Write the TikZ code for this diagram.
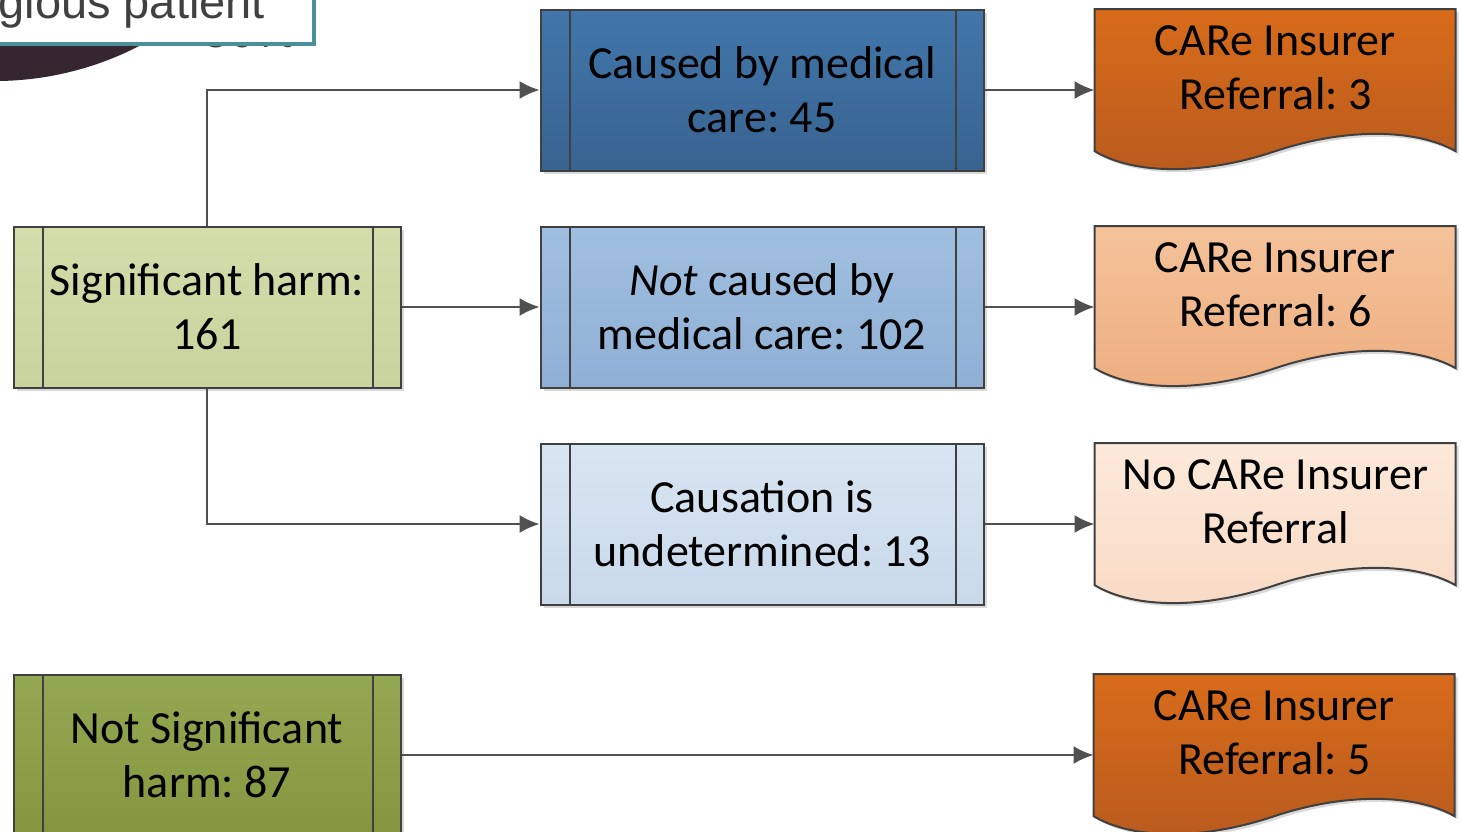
\documentclass[tikz,border=0pt]{standalone}
\usepackage{fontspec}
\setmainfont{Carlito}
\newfontfamily\calloutfont{Liberation Sans}
\usetikzlibrary{shapes,arrows.meta,positioning,calc,shadows,backgrounds}
\frenchspacing

\definecolor{boxline}{HTML}{404040}
\definecolor{arrowline}{HTML}{505050}
\definecolor{sigtop}{HTML}{D3DDAB}
\definecolor{sigbot}{HTML}{C8D39E}
\definecolor{notsigtop}{HTML}{94A853}
\definecolor{notsigbot}{HTML}{83963F}
\definecolor{causedtop}{HTML}{4176AA}
\definecolor{causedbot}{HTML}{386390}
\definecolor{notcausedtop}{HTML}{A0BFE0}
\definecolor{notcausedbot}{HTML}{8FB0D5}
\definecolor{undettop}{HTML}{D8E5F2}
\definecolor{undetbot}{HTML}{C9D9EA}
\definecolor{orangetop}{HTML}{D86B1A}
\definecolor{orangebot}{HTML}{B95B1E}
\definecolor{peachtop}{HTML}{F5C29A}
\definecolor{peachbot}{HTML}{EDAE80}
\definecolor{paletop}{HTML}{FCE9DA}
\definecolor{palebot}{HTML}{F8DAC4}
\definecolor{darkpie}{HTML}{35262F}
\definecolor{calloutteal}{HTML}{4A9098}
\definecolor{callouttext}{HTML}{404040}

\tikzset{
  procbox/.style={draw=boxline, line width=1pt, rectangle, minimum height=80.5pt, align=center,
    font=\fontsize{23pt}{27pt}\selectfont,
    drop shadow={shadow xshift=1.5pt, shadow yshift=-1.5pt, fill=black!15, opacity=1},
    path picture={\draw[boxline, line width=1pt]
      ([xshift=14.5pt]path picture bounding box.north west) -- ([xshift=14.5pt]path picture bounding box.south west)
      ([xshift=-14pt]path picture bounding box.north east) -- ([xshift=-14pt]path picture bounding box.south east);}},
  sidebox/.style={procbox, minimum width=193.5pt},
  midbox/.style={procbox, minimum width=221.5pt},
  docbox/.style={rectangle, minimum width=180.5pt, minimum height=80.5pt, align=center,
    font=\fontsize{23pt}{27pt}\selectfont},
  wave/.style={insert path={(0,0) -- (361,0) -- (361,142) .. controls (320,119) and (250,119) .. (181,142)
    .. controls (110,166) and (40,166) .. (0,142) -- cycle}},
  link/.style={->, draw=arrowline, line width=1pt}
}

\begin{document}
\begin{tikzpicture}[x=0.5pt, y=-0.5pt, >={Latex[length=10pt,width=9pt]}]
  \useasboundingbox (0,0) rectangle (1462,831);
  \clip (0,0) rectangle (1462,831);

  % cut-off callout from the slide above
  \fill[darkpie] (0,0) -- (0,81) .. controls (60,80) and (112,62) .. (150,40) -- (180,0) -- cycle;
  \node[anchor=base west, inner sep=0, text=callouttext, font=\calloutfont\fontsize{23.5pt}{28pt}\selectfont] (pct) at (203,47) {50\%};
  \node[anchor=base east, draw=calloutteal, line width=2pt, fill=white, inner xsep=24.5pt, inner ysep=8pt,
    text depth=5pt, text=callouttext, font=\calloutfont\fontsize{23.5pt}{28pt}\selectfont] (callout) at (316,18) {gious patient};

  % harm boxes
  \node[sidebox, top color=sigtop, bottom color=sigbot] (sig) at (207,307) {Significant harm:\\161};
  \node[sidebox, top color=notsigtop, bottom color=notsigbot, below=142.5pt of sig] (notsig) {Not Significant\\harm: 87};

  % causation boxes
  \node[midbox, top color=notcausedtop, bottom color=notcausedbot, right=69pt of sig] (notcaused) {\textit{Not} caused by\\medical care: 102};
  \node[midbox, top color=causedtop, bottom color=causedbot, above=27pt of notcaused] (caused) {Caused by medical\\care: 45};
  \node[midbox, top color=undettop, bottom color=undetbot, below=27pt of notcaused] (undet) {Causation is\\undetermined: 13};

  % referrals
  \node[docbox, right=55pt of caused, yshift=11.25pt] (ref3) {CARe Insurer\\Referral: 3};
  \node[docbox, right=55pt of notcaused, yshift=11.25pt] (ref6) {CARe Insurer\\Referral: 6};
  \node[docbox, right=55pt of undet, yshift=11.25pt] (ref0) {No CARe Insurer\\Referral};
  \node[docbox, right=346pt of notsig, yshift=11.25pt] (ref5) {CARe Insurer\\Referral: 5};

  \begin{scope}[on background layer]
    \foreach \r/\ct/\cb in {ref3/orangetop/orangebot, ref6/peachtop/peachbot, ref0/paletop/palebot, ref5/orangetop/orangebot}
    {
      \begin{scope}[shift={($(\r.north west)+(0,22.5)$)}]
        \fill[black!15, xshift=1.5pt, yshift=-1.5pt, wave];
        \shadedraw[draw=boxline, line width=1pt, top color=\ct, bottom color=\cb, wave];
      \end{scope}
    }
  \end{scope}

  \draw[link] (sig.north) |- (caused.west);
  \draw[link] (sig) -- (notcaused);
  \draw[link] (sig.south) |- (undet.west);
  \draw[link] (caused) -- (caused -| ref3.west);
  \draw[link] (notcaused) -- (notcaused -| ref6.west);
  \draw[link] (undet) -- (undet -| ref0.west);
  \draw[link] (notsig) -- (notsig -| ref5.west);
\end{tikzpicture}
\end{document}
